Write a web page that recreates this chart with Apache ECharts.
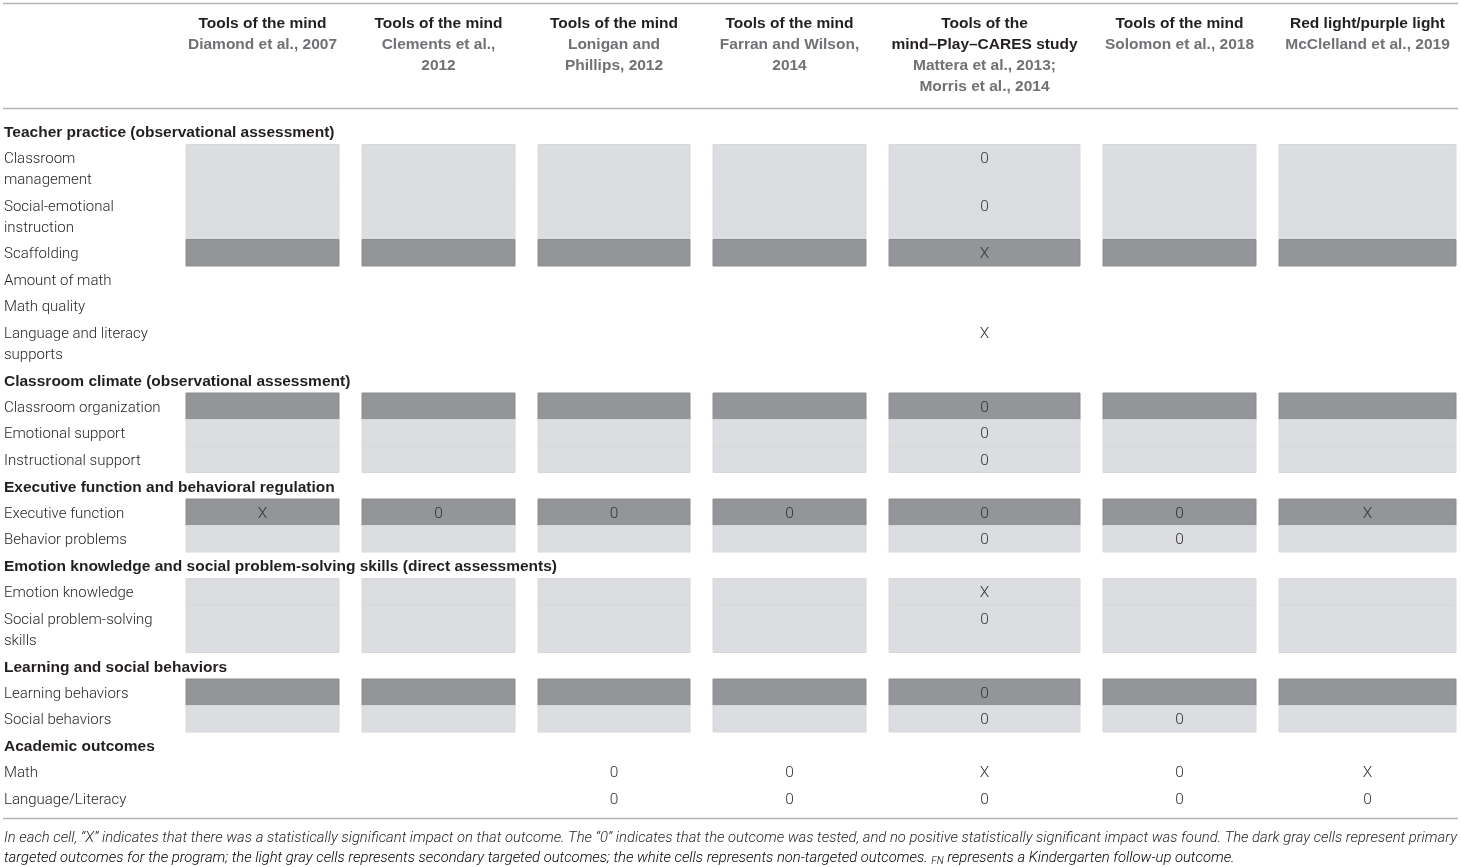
<!DOCTYPE html>
<html>
<head>
<meta charset="utf-8">
<script src="https://cdn.jsdelivr.net/npm/echarts@6/dist/echarts.min.js"></script>
<style>
  html, body { margin: 0; padding: 0; background: #fff; }
  #chart { width: 1461px; height: 867px; }
</style>
</head>
<body>
<div id="chart"></div>
<script>
// ---- data ----
const studyTitles = [
  'Tools of the mind',
  'Tools of the mind',
  'Tools of the mind',
  'Tools of the mind',
  'Tools of the\nmind–Play–CARES study',
  'Tools of the mind',
  'Red light/purple light'
];
const studyCitations = [
  'Diamond et al., 2007',
  'Clements et al.,\n2012',
  'Lonigan and\nPhillips, 2012',
  'Farran and Wilson,\n2014',
  'Mattera et al., 2013;\nMorris et al., 2014',
  'Solomon et al., 2018',
  'McClelland et al., 2019'
];
const sections = [
  'Teacher practice (observational assessment)',
  'Classroom climate (observational assessment)',
  'Executive function and behavioral regulation',
  'Emotion knowledge and social problem-solving skills (direct assessments)',
  'Learning and social behaviors',
  'Academic outcomes'
];
const outcomeLabels = [
  'Classroom\nmanagement',
  'Social-emotional\ninstruction',
  'Scaffolding',
  'Amount of math',
  'Math quality',
  'Language and literacy\nsupports',
  'Classroom organization',
  'Emotional support',
  'Instructional support',
  'Executive function',
  'Behavior problems',
  'Emotion knowledge',
  'Social problem-solving\nskills',
  'Learning behaviors',
  'Social behaviors',
  'Math',
  'Language/Literacy'
];
const outcomeSection = [0, 0, 0, 0, 0, 0, 1, 1, 1, 2, 2, 3, 3, 4, 4, 5, 5];
// 0 = non-targeted (white), 1 = secondary (light gray), 2 = primary (dark gray)
const outcomeTarget = [1, 1, 2, 0, 0, 0, 2, 1, 1, 2, 1, 1, 1, 2, 1, 0, 0];
const results = [
  ['', '', '', '', '0', '', ''],
  ['', '', '', '', '0', '', ''],
  ['', '', '', '', 'X', '', ''],
  ['', '', '', '', '', '', ''],
  ['', '', '', '', '', '', ''],
  ['', '', '', '', 'X', '', ''],
  ['', '', '', '', '0', '', ''],
  ['', '', '', '', '0', '', ''],
  ['', '', '', '', '0', '', ''],
  ['X', '0', '0', '0', '0', '0', 'X'],
  ['', '', '', '', '0', '0', ''],
  ['', '', '', '', 'X', '', ''],
  ['', '', '', '', '0', '', ''],
  ['', '', '', '', '0', '', ''],
  ['', '', '', '', '0', '0', ''],
  ['', '', '0', '0', 'X', '0', 'X'],
  ['', '', '0', '0', '0', '0', '0']
];
const footnoteLine1 = 'In each cell, “X” indicates that there was a statistically significant impact on that outcome. The “0” indicates that the outcome was tested, and no positive statistically significant impact was found. The dark gray cells represent primary';
const footnoteLine2a = 'targeted outcomes for the program; the light gray cells represents secondary targeted outcomes; the white cells represents non-targeted outcomes. ';
const footnoteSub = 'FN';
const footnoteLine2b = ' represents a Kindergarten follow-up outcome.';

// ---- layout ----
const W = 1461, H = 867;
const colLeft = [186, 362, 538, 713, 889, 1103, 1279];
const colRight = [339, 515, 690, 866, 1080, 1256, 1456];
const LINE = 21;
const bodyTop = 118;
const LIGHT = 'Roboto, "Liberation Sans", Arial, sans-serif';
const BOLD = '"Liberation Sans", Arial, sans-serif';
const shadeFill = ['#ffffff', '#dcdde0', '#939598'];
const shadeStroke = ['#ffffff', '#d7d8da', '#8b8c8f'];

// stack rows: a section header then its outcomes
const rowLayout = [];
const outcomeRow = [];
let y = bodyTop;
sections.forEach(function (s, si) {
  rowLayout.push({ kind: 'section', text: s, top: y, h: LINE + 5.5 });
  y += LINE + 5.5;
  outcomeLabels.forEach(function (lab, oi) {
    if (outcomeSection[oi] !== si) return;
    const lines = lab.split('\n').length;
    const h = LINE * lines + 5.5;
    outcomeRow[oi] = rowLayout.length;
    rowLayout.push({ kind: 'outcome', text: lab, top: y, h: h });
    y += h;
  });
});
const bottomRule = y + 7;
const TEXT_MID = 15; // first text line centre below a row's top

const cellData = [];
results.forEach(function (row, r) {
  row.forEach(function (mark, c) {
    cellData.push([c, r, outcomeTarget[r], mark]);
  });
});
const labelData = rowLayout.map(function (row, i) { return [0, i]; });
const headerData = studyTitles.map(function (t, c) { return [c, 0]; });

const chart = echarts.init(document.getElementById('chart'), null, { renderer: 'canvas' });

chart.setOption({
  animation: false,
  grid: { left: 0, right: 0, top: 0, bottom: 0 },
  xAxis: { type: 'value', min: 0, max: W, show: false },
  yAxis: { type: 'value', min: 0, max: H, inverse: true, show: false },
  graphic: [
    { type: 'line', shape: { x1: 3, y1: 3.5, x2: 1458, y2: 3.5 }, style: { stroke: '#b1b3b6', lineWidth: 1.5 } },
    { type: 'line', shape: { x1: 3, y1: 108.5, x2: 1458, y2: 108.5 }, style: { stroke: '#b1b3b6', lineWidth: 1.5 } },
    { type: 'line', shape: { x1: 3, y1: bottomRule, x2: 1458, y2: bottomRule }, style: { stroke: '#b1b3b6', lineWidth: 1.5 } },
    {
      type: 'text', left: 4, top: 831,
      style: { text: footnoteLine1, font: 'italic 300 14.8px ' + LIGHT, fill: '#231f20' }
    },
    {
      type: 'text', left: 4, top: 851,
      style: {
        text: '{a|' + footnoteLine2a + '}{s|' + footnoteSub + '}{a|' + footnoteLine2b + '}',
        rich: {
          a: { fontStyle: 'italic', fontWeight: 300, fontSize: 14.8, fontFamily: LIGHT, color: '#231f20', verticalAlign: 'bottom' },
          s: { fontStyle: 'italic', fontWeight: 300, fontSize: 10, fontFamily: LIGHT, color: '#231f20', verticalAlign: 'bottom' }
        }
      }
    }
  ],
  series: [
    {
      type: 'custom',
      name: 'cells',
      data: cellData,
      encode: { x: 0, y: 1 },
      renderItem: function (params, api) {
        const c = api.value(0), r = api.value(1), t = api.value(2);
        const mark = cellData[params.dataIndex][3];
        const row = rowLayout[outcomeRow[r]];
        const p0 = api.coord([colLeft[c], row.top]);
        const p1 = api.coord([colRight[c], row.top + row.h]);
        const children = [];
        if (t > 0) {
          children.push({
            type: 'rect',
            shape: { x: p0[0], y: p0[1], width: p1[0] - p0[0], height: p1[1] - p0[1] },
            style: { fill: shadeFill[t], stroke: shadeStroke[t], lineWidth: 1 }
          });
        }
        if (mark) {
          const ty = api.coord([0, row.top + TEXT_MID])[1];
          children.push({
            type: 'text',
            style: {
              text: mark, x: (p0[0] + p1[0]) / 2, y: ty,
              align: 'center', verticalAlign: 'middle',
              font: '300 15.5px ' + LIGHT, fill: '#333333'
            }
          });
        }
        return { type: 'group', children: children };
      },
      z: 2
    },
    {
      type: 'custom',
      name: 'rowLabels',
      data: labelData,
      encode: { x: 0, y: 1 },
      renderItem: function (params, api) {
        const row = rowLayout[api.value(1)];
        const p = api.coord([4, row.top + TEXT_MID - LINE / 2]);
        const bold = row.kind === 'section';
        return {
          type: 'text',
          style: {
            text: row.text, x: p[0], y: p[1],
            align: 'left', verticalAlign: 'top', lineHeight: LINE,
            font: bold ? 'bold 15.5px ' + BOLD : '300 15px ' + LIGHT,
            fill: '#231f20'
          }
        };
      },
      z: 3
    },
    {
      type: 'custom',
      name: 'header',
      data: headerData,
      encode: { x: 0, y: 1 },
      renderItem: function (params, api) {
        const c = api.value(0);
        const cx = api.coord([(colLeft[c] + colRight[c]) / 2, 0])[0];
        const titleLines = studyTitles[c].split('\n').length;
        const y0 = api.coord([0, 24 - LINE / 2])[1];
        return {
          type: 'group',
          children: [
            {
              type: 'text',
              style: {
                text: studyTitles[c], x: cx, y: y0,
                align: 'center', verticalAlign: 'top', lineHeight: LINE,
                font: 'bold 15.5px ' + BOLD, fill: '#231f20'
              }
            },
            {
              type: 'text',
              style: {
                text: studyCitations[c], x: cx, y: y0 + titleLines * LINE,
                align: 'center', verticalAlign: 'top', lineHeight: LINE,
                font: 'bold 15.5px ' + BOLD, fill: '#707174'
              }
            }
          ]
        };
      },
      z: 3
    }
  ]
});
</script>
</body>
</html>
